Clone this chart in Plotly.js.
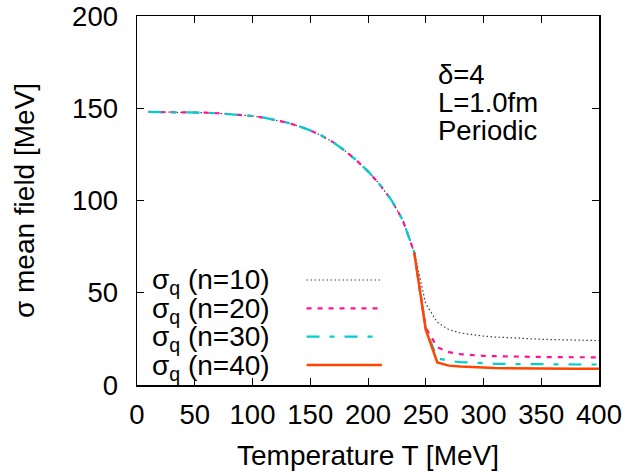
<!DOCTYPE html>
<html>
<head>
<meta charset="utf-8">
<script src="https://cdn.plot.ly/plotly-3.0.1.min.js"></script>
<style>html,body{margin:0;padding:0;background:#fff;}#chart{width:629px;height:476px;}</style>
</head>
<body>
<div id="chart"></div>
<script>
// Temperature grid [MeV]
const temperature = [10,20,30,40,50,60,70,80,90,100,110,120,130,140,150,160,170,180,190,200,
  210,220,230,240,250,260,270,280,290,300,310,320,330,340,350,360,370,380,390,400];
// n=40 is only drawn from the transition onward
const temperatureN40 = [240,250,260,270,280,290,300,310,320,330,340,350,360,370,380,390,400];

// sigma mean field [MeV] for each n
const sigmaN10 = [148,148,148,147.9,147.8,147.6,147.3,146.9,146.4,145.8,144.9,143.7,142.2,140.3,138,135.1,131.5,127,121.8,115.8,
  108.8,100.5,89.5,72,44,34,30,28.2,27.2,26.5,26,25.6,25.3,25,24.8,24.6,24.5,24.3,24.2,24.1];
const sigmaN20 = [148,148,148,147.9,147.8,147.6,147.3,146.9,146.4,145.8,144.9,143.7,142.2,140.3,138,135.1,131.5,127,121.8,115.8,
  108.8,100.5,89.5,72,31,20.5,17.8,16.7,16.1,15.8,15.6,15.4,15.3,15.2,15.2,15.1,15.1,15.0,15.0,15.0];
const sigmaN30 = [148,148,148,147.9,147.8,147.6,147.3,146.9,146.4,145.8,144.9,143.7,142.2,140.3,138,135.1,131.5,127,121.8,115.8,
  108.8,100.5,89.5,72,30.3,14.5,13.1,12.4,12.0,11.7,11.5,11.4,11.3,11.3,11.2,11.2,11.2,11.1,11.1,11.1];
const sigmaN40 = [72,30,12.2,10.5,10.0,9.6,9.4,9.2,9.1,9.0,8.9,8.9,8.9,8.8,8.8,8.8,8.8];

const seriesLabels = ['σ<sub>q</sub> (n=10)','σ<sub>q</sub> (n=20)','σ<sub>q</sub> (n=30)','σ<sub>q</sub> (n=40)'];
const infoLines = ['δ=4','L=1.0fm','Periodic'];

const FONT = 'Liberation Sans, Arial, Helvetica, sans-serif';
const FS = 28;
const styles = [
  {color:'#404040', width:1.2, dash:'1.5px,2.5px'},
  {color:'#ff1493', width:2.2, dash:'5px,6px'},
  {color:'#00ced1', width:2.2, dash:'13px,10px,5px,10px'},
  {color:'#ff4500', width:2.5, dash:'solid'}
];
const seriesX = [temperature, temperature, temperature, temperatureN40];
const seriesY = [sigmaN10, sigmaN20, sigmaN30, sigmaN40];

const traces = seriesY.map((ys,i)=>({
  x: seriesX[i], y: ys, type:'scatter', mode:'lines',
  line: styles[i], name: seriesLabels[i], showlegend:false, hoverinfo:'skip'
}));

// legend (gnuplot style: text right-aligned, sample to the right)
const legendRowsY = [0.2846, 0.2079, 0.1309, 0.0542];
const annotations = [];
const shapes = [];
seriesLabels.forEach((lab,i)=>{
  annotations.push({xref:'paper', yref:'paper', x:0.292, y:legendRowsY[i], xanchor:'right', yanchor:'middle',
    text:lab, showarrow:false, yshift:-2, font:{family:FONT, size:FS, color:'#000'}});
  shapes.push({type:'line', xref:'paper', yref:'paper', x0:0.367, x1:0.530, y0:legendRowsY[i], y1:legendRowsY[i],
    line:styles[i]});
});
const infoY = [0.8428, 0.7669, 0.691];
infoLines.forEach((t,i)=>{
  annotations.push({xref:'paper', yref:'paper', x:0.648, y:infoY[i], xanchor:'left', yanchor:'middle',
    text:t, showarrow:false, font:{family:FONT, size:27.5, color:'#000'}});
});

const axisCommon = {
  showline:true, linecolor:'#000', linewidth:1.5, mirror:'allticks',
  ticks:'inside', ticklen:7, tickwidth:1, tickcolor:'#000',
  showgrid:false, zeroline:false, tickfont:{family:FONT, size:27.5, color:'#000'}
};

const layout = {
  width:629, height:476,
  margin:{l:137, r:30, t:16, b:91, pad:0},
  paper_bgcolor:'#fff', plot_bgcolor:'#fff',
  font:{family:FONT, size:FS, color:'#000'},
  xaxis: Object.assign({}, axisCommon, {range:[0,400], tick0:0, dtick:50, ticklabelstandoff:4,
    title:{text:'Temperature T [MeV]', font:{family:FONT, size:FS, color:'#000'}, standoff:17}}),
  yaxis: Object.assign({}, axisCommon, {range:[0,200], tick0:0, dtick:50, ticklabelstandoff:12,
    title:{text:'σ mean field [MeV]', font:{family:FONT, size:FS, color:'#000'}, standoff:29}}),
  showlegend:false,
  annotations: annotations,
  shapes: shapes
};

Plotly.newPlot('chart', traces, layout, {displayModeBar:false, staticPlot:true});
</script>
</body>
</html>
